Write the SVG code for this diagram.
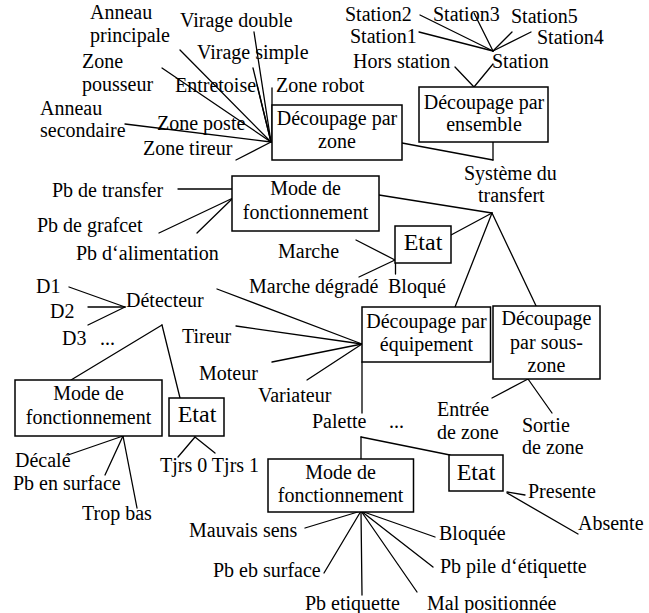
<svg xmlns="http://www.w3.org/2000/svg" width="649" height="613" viewBox="0 0 649 613" font-family="Liberation Serif, Times New Roman, DejaVu Serif, serif">
  <style>
    text { font-family: "Liberation Serif", "Times New Roman", "DejaVu Serif", serif; font-size: 20px; fill: #000; }
    .c { text-anchor: middle; }
    .big { font-size: 24px; }
    .box { fill: #fff; stroke: #000; stroke-width: 1.5; }
    .ln line { stroke: #000; stroke-width: 1.3; stroke-linecap: round; }
  </style>
  <rect width="649" height="613" fill="#fff"/>

  <!-- connectors -->
  <g id="connectors" class="ln">
    <!-- zone fan -->
    <line x1="254" y1="32" x2="271" y2="142"/>
    <line x1="253" y1="68" x2="271" y2="142"/>
    <line x1="257" y1="85" x2="271" y2="142"/>
    <line x1="180" y1="50" x2="271" y2="142"/>
    <line x1="162" y1="68" x2="271" y2="142"/>
    <line x1="125" y1="124" x2="271" y2="142"/>
    <line x1="236" y1="160" x2="271" y2="142"/>
    <line x1="272" y1="88" x2="272" y2="142"/>
    <line x1="402" y1="143" x2="493" y2="160"/>
    <line x1="493" y1="142" x2="493" y2="160"/>
    <!-- stations -->
    <line x1="420" y1="15" x2="493" y2="51"/>
    <line x1="474" y1="13" x2="493" y2="51"/>
    <line x1="512" y1="32" x2="493" y2="51"/>
    <line x1="419" y1="32" x2="493" y2="51"/>
    <line x1="531" y1="32" x2="493" y2="51"/>
    <line x1="455" y1="67" x2="474" y2="87"/>
    <line x1="493" y1="64" x2="474" y2="87"/>
    <!-- transfer system -->
    <line x1="379" y1="195" x2="492" y2="213"/>
    <line x1="451" y1="235" x2="492" y2="213"/>
    <line x1="455" y1="307" x2="492" y2="213"/>
    <line x1="538" y1="310" x2="492" y2="213"/>
    <!-- top operating mode -->
    <line x1="178" y1="189" x2="232" y2="189"/>
    <line x1="159" y1="233" x2="233" y2="198"/>
    <line x1="197" y1="233" x2="233" y2="198"/>
    <!-- middle state -->
    <line x1="356" y1="240" x2="395" y2="260"/>
    <line x1="359" y1="277" x2="395" y2="260"/>
    <line x1="395.5" y1="263" x2="395.5" y2="274"/>
    <!-- equipment -->
    <line x1="217" y1="289" x2="362" y2="344"/>
    <line x1="236" y1="326" x2="362" y2="344"/>
    <line x1="272" y1="362" x2="362" y2="344"/>
    <line x1="307" y1="380" x2="362" y2="344"/>
    <line x1="362" y1="362" x2="362" y2="413"/>
    <!-- detector -->
    <line x1="69" y1="287" x2="125" y2="307"/>
    <line x1="88" y1="307" x2="125" y2="307"/>
    <line x1="88" y1="325" x2="125" y2="307"/>
    <line x1="162" y1="325" x2="71" y2="380"/>
    <line x1="162" y1="325" x2="180" y2="398"/>
    <line x1="68" y1="455" x2="123" y2="436"/>
    <line x1="105" y1="475" x2="123" y2="436"/>
    <line x1="137" y1="508" x2="123" y2="436"/>
    <line x1="178" y1="457" x2="195" y2="437"/>
    <line x1="215" y1="453" x2="195" y2="437"/>
    <!-- sub-zone -->
    <line x1="492" y1="398" x2="528" y2="379"/>
    <line x1="552" y1="413" x2="528" y2="379"/>
    <!-- pallet -->
    <line x1="361" y1="437" x2="361" y2="459"/>
    <line x1="361" y1="437" x2="450" y2="455"/>
    <line x1="507" y1="492" x2="525" y2="495"/>
    <line x1="507" y1="493" x2="578" y2="534"/>
    <line x1="305" y1="528" x2="361" y2="511"/>
    <line x1="435" y1="537" x2="361" y2="511"/>
    <line x1="324" y1="573" x2="361" y2="511"/>
    <line x1="433" y1="567" x2="361" y2="511"/>
    <line x1="362" y1="595" x2="361" y2="511"/>
    <line x1="417" y1="592" x2="361" y2="511"/>
  </g>

  <!-- boxed nodes -->
  <g id="decoupage-zone">
    <rect class="box" x="272" y="105" width="130" height="55"/>
    <text class="c" x="337" y="125">Découpage par</text>
    <text class="c" x="337" y="148">zone</text>
  </g>
  <g id="decoupage-ensemble">
    <rect class="box" x="419" y="87" width="129" height="55"/>
    <text class="c" x="484" y="108.5">Découpage par</text>
    <text class="c" x="484" y="131">ensemble</text>
  </g>
  <g id="mode-transfert">
    <rect class="box" x="232" y="176" width="147" height="55"/>
    <text class="c" x="305.5" y="195">Mode de</text>
    <text class="c" x="305.5" y="219">fonctionnement</text>
  </g>
  <g id="etat-transfert">
    <rect class="box" x="395" y="226" width="56" height="37"/>
    <text class="c big" x="423" y="250">Etat</text>
  </g>
  <g id="decoupage-equipement">
    <rect class="box" x="362" y="307" width="128.5" height="55"/>
    <text class="c" x="426.5" y="328">Découpage par</text>
    <text class="c" x="426.5" y="351">équipement</text>
  </g>
  <g id="decoupage-souszone">
    <rect class="box" x="493" y="306" width="107" height="73"/>
    <text class="c" x="546.5" y="325">Découpage</text>
    <text class="c" x="546.5" y="348.5">par sous-</text>
    <text class="c" x="546.5" y="372">zone</text>
  </g>
  <g id="mode-detecteur">
    <rect class="box" x="15" y="380" width="147" height="56"/>
    <text class="c" x="88.5" y="400">Mode de</text>
    <text class="c" x="88.5" y="423.5">fonctionnement</text>
  </g>
  <g id="etat-detecteur">
    <rect class="box" x="169" y="398" width="55" height="38"/>
    <text class="c big" x="197" y="422">Etat</text>
  </g>
  <g id="mode-palette">
    <rect class="box" x="268" y="459" width="145.5" height="53"/>
    <text class="c" x="340.5" y="478.5">Mode de</text>
    <text class="c" x="340.5" y="502">fonctionnement</text>
  </g>
  <g id="etat-palette">
    <rect class="box" x="449" y="455" width="54" height="36"/>
    <text class="c big" x="476" y="480">Etat</text>
  </g>

  <!-- label nodes -->
  <g id="zones">
    <text x="90" y="19">Anneau</text>
    <text x="90" y="42">principale</text>
    <text x="180" y="27">Virage double</text>
    <text x="197" y="59">Virage simple</text>
    <text x="82" y="68">Zone</text>
    <text x="82" y="91">pousseur</text>
    <text x="175" y="92">Entretoise</text>
    <text x="276" y="92">Zone robot</text>
    <text x="40" y="115">Anneau</text>
    <text x="40" y="137">secondaire</text>
    <text x="157" y="130">Zone poste</text>
    <text x="143" y="155">Zone tireur</text>
  </g>
  <g id="stations">
    <text x="345" y="21">Station2</text>
    <text x="433" y="21">Station3</text>
    <text x="511" y="23">Station5</text>
    <text x="350" y="43">Station1</text>
    <text x="537" y="44">Station4</text>
    <text x="492" y="68">Station</text>
    <text x="353" y="68">Hors station</text>
  </g>
  <g id="systeme">
    <text x="464" y="180">Système du</text>
    <text x="478" y="202">transfert</text>
  </g>
  <g id="pb-transfert">
    <text x="52" y="197">Pb de transfer</text>
    <text x="37" y="232">Pb de grafcet</text>
    <text x="76" y="260">Pb d‘alimentation</text>
  </g>
  <g id="etats-transfert">
    <text x="278" y="258">Marche</text>
    <text x="249" y="293">Marche dégradé</text>
    <text x="388" y="293">Bloqué</text>
  </g>
  <g id="detecteur">
    <text x="126" y="307">Détecteur</text>
    <text x="36" y="293">D1</text>
    <text x="50" y="318">D2</text>
    <text x="62" y="345">D3</text>
    <text x="100" y="345">...</text>
  </g>
  <g id="equipements">
    <text x="182" y="343">Tireur</text>
    <text x="199" y="380">Moteur</text>
    <text x="258" y="402">Variateur</text>
    <text x="312" y="428">Palette</text>
    <text x="389" y="428">...</text>
  </g>
  <g id="detecteur-defauts">
    <text x="15" y="467">Décalé</text>
    <text x="13" y="490">Pb en surface</text>
    <text x="82" y="520">Trop bas</text>
    <text x="160" y="472">Tjrs 0 Tjrs 1</text>
  </g>
  <g id="souszones">
    <text x="437" y="416">Entrée</text>
    <text x="437" y="439">de zone</text>
    <text x="522" y="432">Sortie</text>
    <text x="522" y="454">de zone</text>
  </g>
  <g id="palette-etats">
    <text x="528" y="498">Presente</text>
    <text x="578" y="530">Absente</text>
  </g>
  <g id="palette-defauts">
    <text x="189" y="537">Mauvais sens</text>
    <text x="439" y="540">Bloquée</text>
    <text x="213" y="577">Pb eb surface</text>
    <text x="440" y="573">Pb pile d‘étiquette</text>
    <text x="305" y="610">Pb etiquette</text>
    <text x="427" y="610">Mal positionnée</text>
  </g>
</svg>
